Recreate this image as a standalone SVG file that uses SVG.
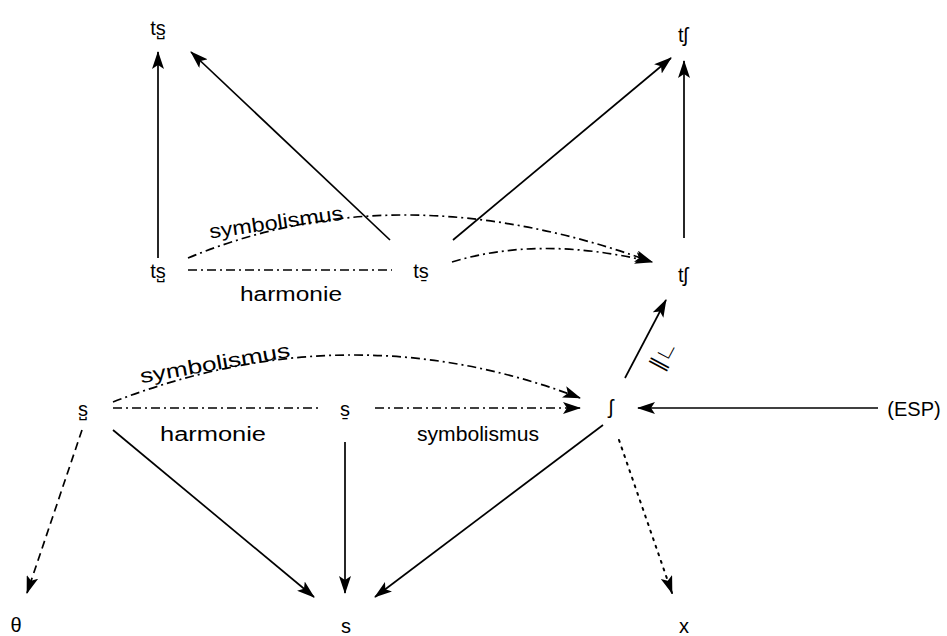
<svg xmlns="http://www.w3.org/2000/svg" width="947" height="636" viewBox="0 0 947 636">
  <style>
    text { font-family: "Liberation Sans", "DejaVu Sans", Arial, sans-serif; font-size: 20px; fill: #000; }
    .node text { text-anchor: middle; }
    .lbl { text-anchor: middle; font-size: 20px; }
    .edge { fill: none; stroke: #000; stroke-width: 1.7; }
    .dashdot { stroke-dasharray: 9 4 2 4; }
    .dashed { stroke-dasharray: 8 5; }
    .dotted { stroke-dasharray: 2 6; stroke-linecap: round; stroke-width: 2; }
  </style>
  <defs>
    <marker id="arrow" viewBox="0 0 18 12" refX="17" refY="6" markerWidth="18" markerHeight="12" markerUnits="userSpaceOnUse" orient="auto">
      <path d="M0,0 L18,6 L0,12 L4,6 Z" fill="#000"/>
    </marker>
  </defs>

  <rect width="947" height="636" fill="#fff"/>

  <!-- connectors -->
  <g id="connectors">
    <line class="edge" x1="158" y1="258" x2="158" y2="52" marker-end="url(#arrow)"/>
    <line class="edge" x1="390" y1="240" x2="191" y2="52" marker-end="url(#arrow)"/>
    <line class="edge" x1="453" y1="240" x2="671" y2="58" marker-end="url(#arrow)"/>
    <line class="edge" x1="684" y1="238" x2="684" y2="61" marker-end="url(#arrow)"/>

    <path class="edge dashdot" d="M188,258 Q400,170 652,262" marker-end="url(#arrow)"/>
    <path class="edge dashdot" d="M452,262 Q540,235 652,262" marker-end="url(#arrow)"/>
    <line class="edge dashdot" x1="188" y1="270" x2="392" y2="270"/>

    <line class="edge" x1="625" y1="378" x2="666" y2="300" marker-end="url(#arrow)"/>
    <line class="edge" x1="878" y1="408" x2="638" y2="408" marker-end="url(#arrow)"/>

    <path class="edge dashdot" d="M113,402 Q350,310 580,398" marker-end="url(#arrow)"/>
    <line class="edge dashdot" x1="113" y1="408" x2="318" y2="408"/>
    <line class="edge dashdot" x1="375" y1="408" x2="580" y2="408" marker-end="url(#arrow)"/>

    <line class="edge dashed" x1="82" y1="430" x2="27" y2="593" marker-end="url(#arrow)"/>
    <line class="edge" x1="113" y1="430" x2="314" y2="597" marker-end="url(#arrow)"/>
    <line class="edge" x1="345" y1="442" x2="345" y2="593" marker-end="url(#arrow)"/>
    <line class="edge" x1="603" y1="425" x2="375" y2="597" marker-end="url(#arrow)"/>
    <line class="edge dotted" x1="619" y1="440" x2="672" y2="593" marker-end="url(#arrow)"/>
  </g>

  <!-- edge labels -->
  <g id="labels">
    <text class="lbl" transform="translate(277,229) rotate(-8)" textLength="135" lengthAdjust="spacingAndGlyphs">symbolismus</text>
    <text class="lbl" x="291" y="301" textLength="102" lengthAdjust="spacingAndGlyphs">harmonie</text>
    <text class="lbl" transform="translate(216,370) rotate(-10)" textLength="152" lengthAdjust="spacingAndGlyphs">symbolismus</text>
    <text class="lbl" x="213" y="441" textLength="106" lengthAdjust="spacingAndGlyphs">harmonie</text>
    <text class="lbl" x="478" y="441" textLength="122" lengthAdjust="spacingAndGlyphs">symbolismus</text>
    <text class="lbl" transform="translate(669,358) rotate(-62)" style="font-size:21px">∥∟</text>
  </g>

  <!-- nodes -->
  <g id="n-ts-apical-top" class="node"><text x="158" y="35">ts̺</text></g>
  <g id="n-tsh-top" class="node"><text x="683" y="42">tʃ</text></g>
  <g id="n-ts-apical-mid" class="node"><text x="158" y="278">ts̺</text></g>
  <g id="n-ts-retracted" class="node"><text x="421" y="278">ts̱</text></g>
  <g id="n-tsh-mid" class="node"><text x="683" y="282">tʃ</text></g>
  <g id="n-esh" class="node"><text x="611" y="414">ʃ</text></g>
  <g id="n-esp" class="node"><text x="914" y="416">(ESP)</text></g>
  <g id="n-s-apical" class="node"><text x="83" y="416">s̺</text></g>
  <g id="n-s-retracted" class="node"><text x="345" y="416">s̱</text></g>
  <g id="n-theta" class="node"><text x="16" y="632">θ</text></g>
  <g id="n-s" class="node"><text x="346" y="633">s</text></g>
  <g id="n-x" class="node"><text x="684" y="633">x</text></g>
</svg>
